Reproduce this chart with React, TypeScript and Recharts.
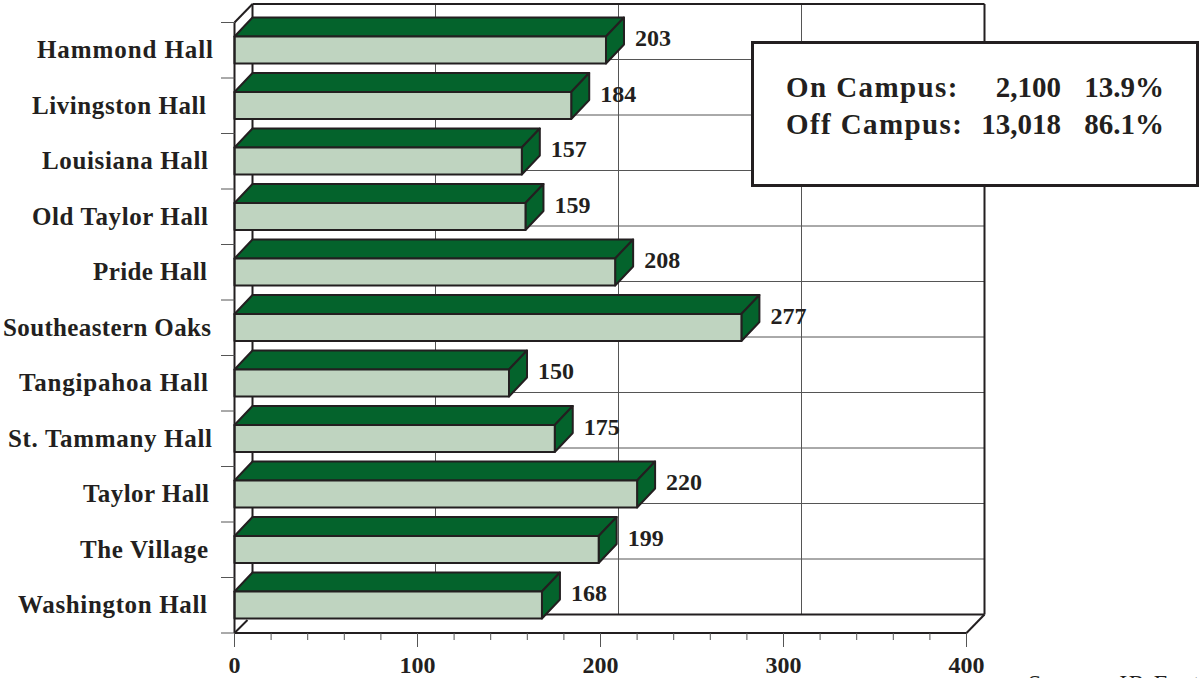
import React from 'react';
import { BarChart, Bar, XAxis, YAxis, LabelList, CartesianGrid } from 'recharts';

const halls = [
  'Hammond Hall', 'Livingston Hall', 'Louisiana Hall', 'Old Taylor Hall', 'Pride Hall', 'Southeastern Oaks',
  'Tangipahoa Hall', 'St. Tammany Hall', 'Taylor Hall', 'The Village', 'Washington Hall',
];
const residents = [203, 184, 157, 159, 208, 277, 150, 175, 220, 199, 168];
const xTicks = [0, 20, 40, 60, 80, 100, 120, 140, 160, 180, 200, 220, 240, 260, 280, 300, 320, 340, 360, 380, 400];
const wallTicks = [100, 200, 300];
const X_MAX = 400;
const campusLabels = ['On Campus:', 'Off Campus:'];
const campusCounts = ['2,100', '13,018'];
const campusShares = ['13.9%', '86.1%'];

const rows = halls.map((name, i) => ({ name, value: residents[i] }));

const WIDTH = 1199;
const HEIGHT = 678;
const LEFT = 234.5;
const TOP = 22.5;
const PLOT_W = 732;
const PLOT_H = 610.5;
const BAND = PLOT_H / halls.length;
const DX = 18;
const DY = 18.5;
const FLOOR_Y = TOP + PLOT_H;

const INK = '#231f20';
const GRID = '#555';
const DARK_GREEN = '#04632c';
const LIGHT_GREEN = '#bfd4c0';
const SERIF = '"Liberation Serif", serif';

// the source labels are not cleanly aligned, so each one keeps its own start and end
const labelSpan: Record<string, [number, number]> = {
  'Hammond Hall': [37, 213], 'Livingston Hall': [32, 206], 'Louisiana Hall': [42, 208], 'Old Taylor Hall': [32, 208],
  'Pride Hall': [93, 207], 'Southeastern Oaks': [3, 211], 'Tangipahoa Hall': [19, 208], 'St. Tammany Hall': [8, 212],
  'Taylor Hall': [83, 209], 'The Village': [80, 208], 'Washington Hall': [18, 207],
};

// 3d block: front face, top face, side face
const Block = (props: any) => {
  const { x, y, width, height } = props;
  const r = x + width;
  const b = y + height;
  const dy = 19;
  return (
    <g stroke={INK} strokeWidth={2} strokeLinejoin="round">
      <polygon points={`${x},${y} ${x + DX},${y - dy} ${r + DX},${y - dy} ${r},${y}`} fill={DARK_GREEN} />
      <polygon points={`${r},${y} ${r + DX},${y - dy} ${r + DX},${b - dy} ${r},${b}`} fill={DARK_GREEN} />
      <rect x={x} y={y} width={width} height={height} fill={LIGHT_GREEN} />
    </g>
  );
};

const ValueLabel = (props: any) => {
  const { x, y, width, height, value } = props;
  return (
    <text x={x + width + 29} y={y + height / 2 - 4} fontFamily={SERIF} fontWeight={700} fontSize={24} fill={INK}>
      {value}
    </text>
  );
};

// x ticks also draw the slanted wall edges, so they stay on the axis scale
const XTick = (props: any) => {
  const { x, y, payload } = props;
  const v = payload.value;
  const major = v % 100 === 0;
  return (
    <g>
      {v === 0 && (
        <>
          <line x1={x} x2={x + DX} y1={TOP} y2={TOP - DY} stroke={INK} strokeWidth={2} />
          {/* the rest of this edge is hidden behind the last block */}
          <line x1={x} x2={x + 13} y1={FLOOR_Y} y2={FLOOR_Y - 13} stroke={INK} strokeWidth={2} />
        </>
      )}
      {v === X_MAX && <line x1={x} x2={x + DX} y1={FLOOR_Y} y2={FLOOR_Y - DY} stroke={INK} strokeWidth={2} />}
      <line x1={x} x2={x} y1={FLOOR_Y} y2={FLOOR_Y + (major ? 14 : 7)} stroke={GRID} strokeWidth={1} />
      {major && (
        <text x={x} y={y + 32} textAnchor="middle" fontFamily={SERIF} fontWeight={700} fontSize={24} fill={INK}>
          {v}
        </text>
      )}
    </g>
  );
};

// y ticks draw the band tick marks and the hall name
const YTick = (props: any) => {
  const { y, payload, index } = props;
  const edge = y - BAND / 2;
  const isLast = index === halls.length - 1;
  const [start, end] = labelSpan[payload.value];
  return (
    <g>
      <line x1={221} x2={LEFT} y1={edge} y2={edge} stroke={GRID} strokeWidth={1} />
      {isLast && <line x1={221} x2={LEFT} y1={edge + BAND} y2={edge + BAND} stroke={GRID} strokeWidth={1} />}
      <text
        x={start}
        y={y + 8}
        textLength={end - start}
        lengthAdjust="spacing"
        fontFamily={SERIF}
        fontWeight={700}
        fontSize={25}
        fill={INK}
      >
        {payload.value}
      </text>
    </g>
  );
};

const cellStyle: React.CSSProperties = { position: 'absolute', whiteSpace: 'pre', lineHeight: '37px' };

export default function App() {
  return (
    <div style={{ position: 'absolute', left: 0, top: 0, width: WIDTH, height: HEIGHT, overflow: 'hidden', background: '#fff' }}>
      <BarChart
        width={WIDTH}
        height={HEIGHT}
        data={rows}
        layout="vertical"
        margin={{ top: TOP, right: WIDTH - LEFT - PLOT_W, bottom: 0, left: 0 }}
        barCategoryGap={0}
        barSize={27}
      >
        {/* back wall: plot area shifted up and right by the depth */}
        <CartesianGrid
          x={LEFT + DX}
          y={TOP - DY}
          width={PLOT_W}
          height={PLOT_H}
          stroke={GRID}
          strokeWidth={1}
          verticalCoordinatesGenerator={({ offset }: any) => wallTicks.map((v) => offset.left + (v / X_MAX) * offset.width + DX)}
          horizontalCoordinatesGenerator={({ offset }: any) =>
            halls.slice(1).map((_, i) => offset.top + ((i + 1) / halls.length) * offset.height - DY)
          }
        />
        <CartesianGrid
          x={LEFT + DX}
          y={TOP - DY}
          width={PLOT_W}
          height={PLOT_H}
          stroke={INK}
          strokeWidth={2}
          verticalCoordinatesGenerator={({ offset }: any) => [offset.left + DX, offset.left + offset.width + DX]}
          horizontalCoordinatesGenerator={({ offset }: any) => [offset.top - DY, offset.top + offset.height - DY]}
        />
        <XAxis
          type="number"
          domain={[0, X_MAX]}
          ticks={xTicks}
          interval={0}
          height={HEIGHT - TOP - PLOT_H}
          tick={<XTick />}
          tickLine={false}
          axisLine={{ stroke: INK, strokeWidth: 2 }}
        />
        <YAxis
          type="category"
          dataKey="name"
          width={LEFT}
          interval={0}
          tick={<YTick />}
          tickLine={false}
          axisLine={{ stroke: INK, strokeWidth: 2 }}
        />
        <Bar dataKey="value" shape={<Block />} isAnimationActive={false}>
          <LabelList dataKey="value" content={<ValueLabel />} />
        </Bar>
      </BarChart>

      <div
        style={{
          position: 'absolute', left: 751, top: 41, width: 442, height: 140, border: `3px solid ${INK}`,
          background: '#fff', fontFamily: SERIF, fontWeight: 700, fontSize: 29, color: INK,
        }}
      >
        {campusLabels.map((label, i) => (
          <React.Fragment key={label}>
            <span style={{ ...cellStyle, left: 32, top: 25 + i * 37, letterSpacing: 1.4 }}>{label}</span>
            <span style={{ ...cellStyle, right: 135, top: 25 + i * 37 }}>{campusCounts[i]}</span>
            <span style={{ ...cellStyle, right: 32, top: 25 + i * 37 }}>{campusShares[i]}</span>
          </React.Fragment>
        ))}
      </div>

      <div style={{ position: 'absolute', left: 1028, top: 669, fontFamily: SERIF, fontSize: 24, letterSpacing: 1.5, color: INK, whiteSpace: 'pre', lineHeight: '28px' }}>
        Source: IR Factbook
      </div>
    </div>
  );
}
